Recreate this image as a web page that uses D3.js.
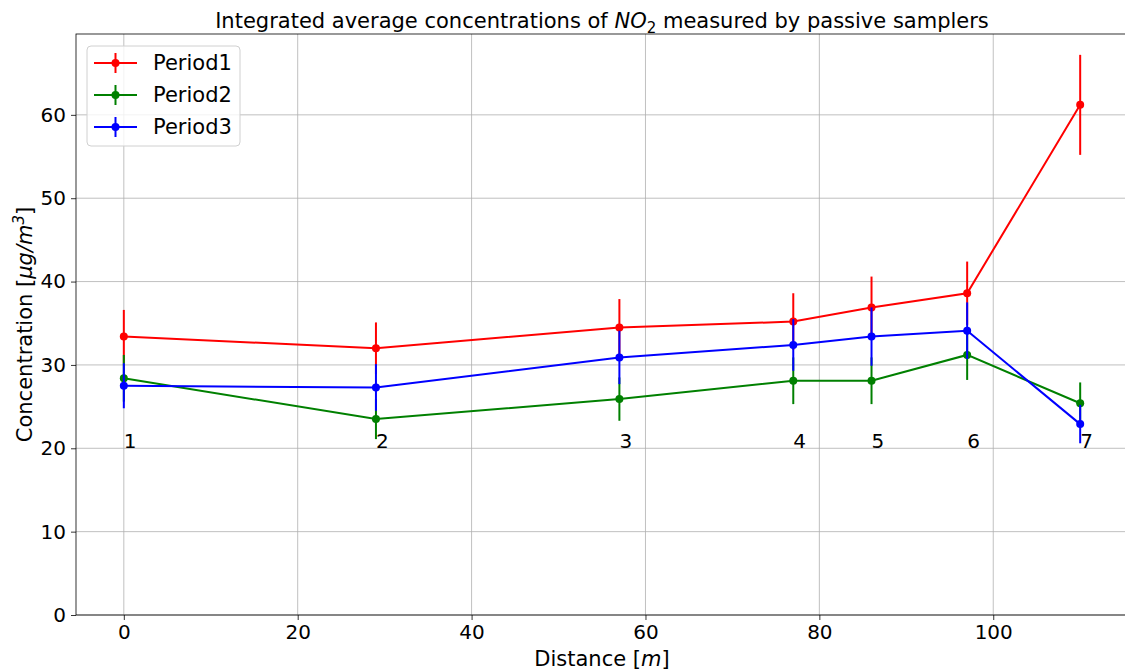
<!DOCTYPE html>
<html>
<head>
<meta charset="utf-8">
<script src="https://cdn.jsdelivr.net/npm/d3@7"></script>
<style>
  html, body { margin: 0; padding: 0; background: #fff; }
  svg { display: block; font-family: "DejaVu Sans", sans-serif; }
</style>
</head>
<body>
<svg id="chart" width="1125" height="670"></svg>
<script>
// Sampling distances [m] and sampler numbers
const distances = [0, 29, 57, 77, 86, 97, 110];
const samplerLabels = ["1", "2", "3", "4", "5", "6", "7"];

// NO2 concentrations [µg/m³] per period
const period1 = [33.4, 32.0, 34.5, 35.2, 36.9, 38.6, 61.2];
const period2 = [28.4, 23.5, 25.9, 28.1, 28.1, 31.2, 25.4];
const period3 = [27.5, 27.3, 30.9, 32.4, 33.4, 34.1, 22.9];

// Standard deviations
const period1Err = [3.2, 3.1, 3.4, 3.4, 3.7, 3.8, 6.0];
const period2Err = [2.8, 2.4, 2.6, 2.8, 2.8, 3.0, 2.5];
const period3Err = [2.7, 2.8, 3.2, 3.1, 3.5, 3.4, 2.3];

const seriesNames = ["Period1", "Period2", "Period3"];
const seriesColors = ["#ff0000", "#008000", "#0000ff"];

const xTicks = [0, 20, 40, 60, 80, 100];
const yTicks = [0, 10, 20, 30, 40, 50, 60];

const series = [
  { name: seriesNames[0], color: seriesColors[0], values: period1, errs: period1Err },
  { name: seriesNames[1], color: seriesColors[1], values: period2, errs: period2Err },
  { name: seriesNames[2], color: seriesColors[2], values: period3, errs: period3Err }
];

const svg = d3.select("#chart");
const plot = { left: 76, right: 1128, top: 34, bottom: 615 };
const labelSize = 21;
const tickSize = 20;

const x = d3.scaleLinear().domain([-5.5, 115.5]).range([plot.left, plot.right]);
const y = d3.scaleLinear().domain([0, 69.7]).range([plot.bottom, plot.top]);

svg.append("defs").append("clipPath").attr("id", "plotclip")
  .append("rect")
  .attr("x", plot.left).attr("y", plot.top)
  .attr("width", plot.right - plot.left).attr("height", plot.bottom - plot.top);

// Grid
const grid = svg.append("g").attr("stroke", "#b0b0b0").attr("stroke-width", 0.8);
grid.selectAll("line.vx").data(xTicks).join("line")
  .attr("x1", d => x(d)).attr("x2", d => x(d))
  .attr("y1", plot.top).attr("y2", plot.bottom);
grid.selectAll("line.hy").data(yTicks).join("line")
  .attr("x1", plot.left).attr("x2", plot.right)
  .attr("y1", d => y(d)).attr("y2", d => y(d));

// Axes
const xAxis = d3.axisBottom(x).tickValues(xTicks).tickSize(5).tickPadding(5).tickFormat(d3.format("d"));
const yAxis = d3.axisLeft(y).tickValues(yTicks).tickSize(5).tickPadding(5).tickFormat(d3.format("d"));

const gx = svg.append("g").attr("transform", `translate(0,${plot.bottom})`).call(xAxis);
const gy = svg.append("g").attr("transform", `translate(${plot.left},0)`).call(yAxis);
[gx, gy].forEach(g => {
  g.select(".domain").remove();
  g.selectAll(".tick line").attr("stroke", "#000").attr("stroke-width", 0.8);
  g.selectAll(".tick text").attr("font-size", tickSize).attr("fill", "#000")
    .attr("font-family", "DejaVu Sans, sans-serif");
});

// Data layers
const dataLayer = svg.append("g").attr("clip-path", "url(#plotclip)");
const line = d3.line().x((d, i) => x(distances[i])).y(d => y(d));

series.forEach(s => {
  const g = dataLayer.append("g");
  g.append("path").datum(s.values)
    .attr("d", line).attr("fill", "none")
    .attr("stroke", s.color).attr("stroke-width", 2);
  g.selectAll("line.err").data(s.values).join("line")
    .attr("x1", (d, i) => x(distances[i])).attr("x2", (d, i) => x(distances[i]))
    .attr("y1", (d, i) => y(d - s.errs[i])).attr("y2", (d, i) => y(d + s.errs[i]))
    .attr("stroke", s.color).attr("stroke-width", 2);
  g.selectAll("circle").data(s.values).join("circle")
    .attr("cx", (d, i) => x(distances[i])).attr("cy", d => y(d))
    .attr("r", 4).attr("fill", s.color);
});

// Sampler numbers
svg.append("g").selectAll("text").data(samplerLabels).join("text")
  .attr("x", (d, i) => x(distances[i]))
  .attr("y", y(20))
  .attr("font-size", tickSize).attr("fill", "#000")
  .text(d => d);

// Frame
svg.append("rect")
  .attr("x", plot.left).attr("y", plot.top)
  .attr("width", plot.right - plot.left).attr("height", plot.bottom - plot.top)
  .attr("fill", "none").attr("stroke", "#000").attr("stroke-width", 0.8);

// Title
const title = svg.append("text")
  .attr("x", (plot.left + plot.right) / 2).attr("y", 28)
  .attr("text-anchor", "middle").attr("font-size", labelSize).attr("fill", "#000");
title.append("tspan").text("Integrated average concentrations of ");
title.append("tspan").attr("font-style", "italic").text("NO");
title.append("tspan").attr("font-size", 15).attr("dy", 5).text("2");
title.append("tspan").attr("dy", -5).text(" measured by passive samplers");

// X label
const xl = svg.append("text")
  .attr("x", (plot.left + plot.right) / 2).attr("y", 666)
  .attr("text-anchor", "middle").attr("font-size", labelSize).attr("fill", "#000");
xl.append("tspan").text("Distance [");
xl.append("tspan").attr("font-style", "italic").text("m");
xl.append("tspan").text("]");

// Y label
const yl = svg.append("text")
  .attr("transform", `translate(32,${(plot.top + plot.bottom) / 2}) rotate(-90)`)
  .attr("text-anchor", "middle").attr("font-size", labelSize).attr("fill", "#000");
yl.append("tspan").text("Concentration [");
yl.append("tspan").attr("font-style", "italic").text("μg/m");
yl.append("tspan").attr("font-style", "italic").attr("font-size", 15).attr("dy", -8).text("3");
yl.append("tspan").attr("dy", 8).text("]");

// Legend
const legend = svg.append("g").attr("transform", "translate(87,46)");
legend.append("rect")
  .attr("width", 153).attr("height", 100).attr("rx", 4)
  .attr("fill", "#fff").attr("fill-opacity", 0.8)
  .attr("stroke", "#d0d0d0").attr("stroke-width", 1);
series.forEach((s, i) => {
  const cy = 17 + i * 32;
  const item = legend.append("g").attr("transform", `translate(0,${cy})`);
  item.append("line").attr("x1", 7).attr("x2", 50).attr("y1", 0).attr("y2", 0)
    .attr("stroke", s.color).attr("stroke-width", 2);
  item.append("line").attr("x1", 28.5).attr("x2", 28.5).attr("y1", -10).attr("y2", 10)
    .attr("stroke", s.color).attr("stroke-width", 2);
  item.append("circle").attr("cx", 28.5).attr("cy", 0).attr("r", 4).attr("fill", s.color);
  item.append("text").attr("x", 66).attr("y", 7)
    .attr("font-size", labelSize).attr("fill", "#000").text(s.name);
});
</script>
</body>
</html>
